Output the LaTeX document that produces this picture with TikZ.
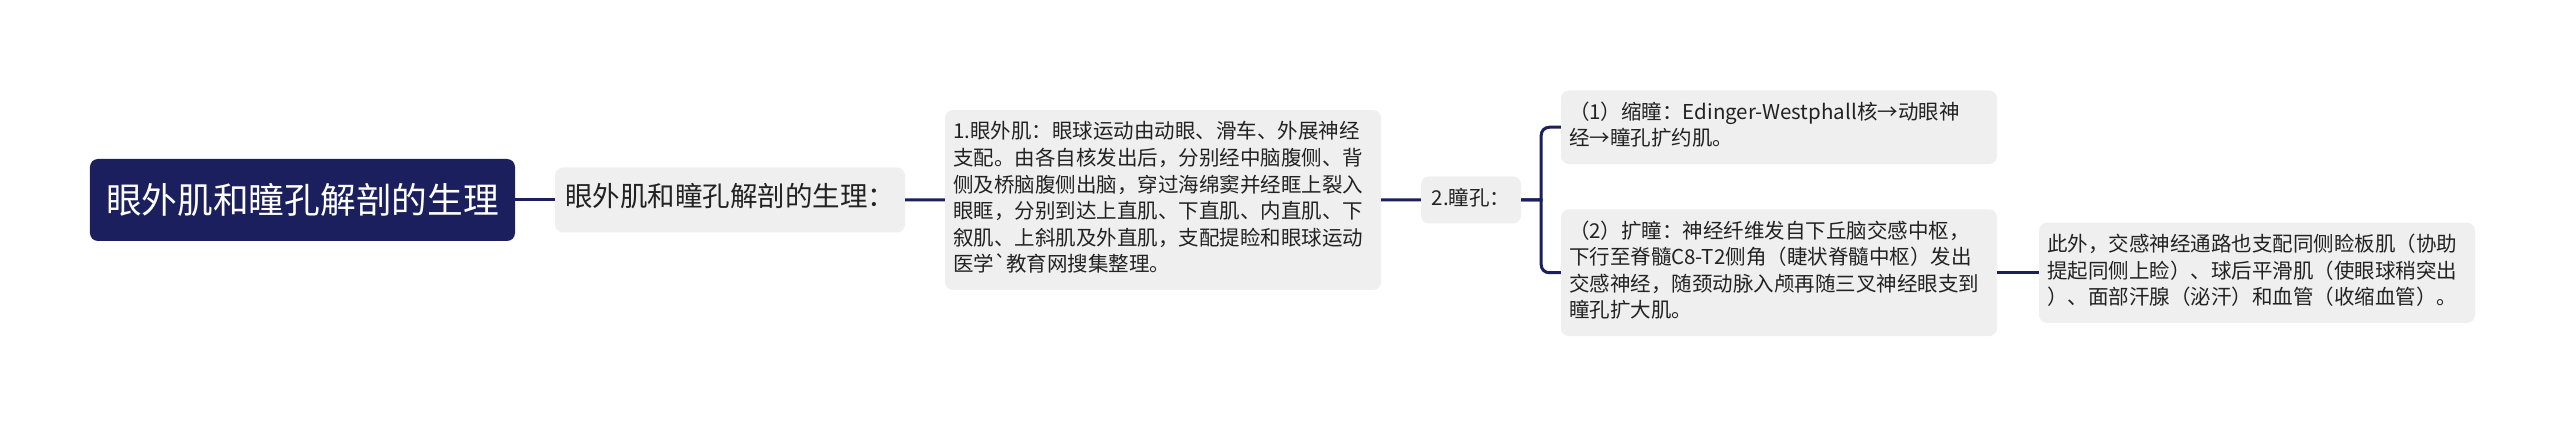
\documentclass[tikz,border=0pt]{standalone}
\usepackage{fontspec}
\newfontfamily\cjk{Noto Sans CJK SC}
\usepackage{tikz}
\usetikzlibrary{trees}
\definecolor{mapnavy}{RGB}{27,31,94}
\definecolor{mapgray}{RGB}{239,239,239}
\definecolor{maptext}{RGB}{34,34,34}

\begin{document}
\begin{tikzpicture}[grow'=right,
                        every child node/.style={tree node},
                        tree node/.style={rectangle, rounded corners=8pt, fill=mapgray, text=maptext,
                          inner xsep=8pt, inner ysep=10.2pt, font=\cjk\fontsize{20.5}{26.6}\selectfont,
                          execute at begin node=\strut, execute at end node=\strut},
                        root node/.style={rectangle, rounded corners=8pt, fill=mapnavy, text=white,
                          inner sep=0pt, minimum width=425pt, minimum height=82pt,
                          font=\cjk\fontsize{35.7}{44}\selectfont},
                        title node/.style={inner sep=0pt, minimum width=350pt, minimum height=65pt,
                          font=\cjk\fontsize{27.5}{34}\selectfont},
                        text node/.style={text width=420pt, align=left},
                        label node/.style={minimum width=100pt},
                        edge from parent/.style={draw=mapnavy, line width=3pt},
                        level 1/.style={level distance=427.5pt},
                        level 2/.style={level distance=433pt},
                        level 3/.style={level distance=308pt},
                        level 4/.style={level distance=308pt, sibling distance=145.5pt,
                          edge from parent path={(\tikzparentnode.east) -- +(21.5pt,0)
                            [rounded corners=8pt] ++(20pt,0) |- (\tikzchildnode.west)}},
                        level 5/.style={level distance=478pt,
                          edge from parent path={(\tikzparentnode) -- (\tikzchildnode)}}]

        \useasboundingbox (-302.5pt,-225pt) rectangle (2257.5pt,200pt);

        \node[root node] (root) {眼外肌和瞳孔解剖的生理}
          child {node[title node] (title) {眼外肌和瞳孔解剖的生理：}
            child {node[text node] (muscle) {1.眼外肌：眼球运动由动眼、滑车、外展神经\\
                支配。由各自核发出后，分别经中脑腹侧、背\\
                侧及桥脑腹侧出脑，穿过海绵窦并经眶上裂入\\
                眼眶，分别到达上直肌、下直肌、内直肌、下\\
                叙肌、上斜肌及外直肌，支配提睑和眼球运动\\
                医学`教育网搜集整理。}
              child {node[label node] (pupil) {2.瞳孔：}
                child {node[text node] (miosis) {（1）缩瞳：\mbox{Edinger-Westphall}核→动眼神\\
                    经→瞳孔扩约肌。}}
                child {node[text node] (mydriasis) {（2）扩瞳：神经纤维发自下丘脑交感中枢，\\
                    下行至脊髓\mbox{C8-T2}侧角（睫状脊髓中枢）发出\\
                    交感神经，随颈动脉入颅再随三叉神经眼支到\\
                    瞳孔扩大肌。}
                  child {node[text node] (extra) {此外，交感神经通路也支配同侧睑板肌（协助\\
                      提起同侧上睑）、球后平滑肌（使眼球稍突出\\
                      ）、面部汗腺（泌汗）和血管（收缩血管）。}}}}}}
         ;
    \end{tikzpicture}
\end{document}
